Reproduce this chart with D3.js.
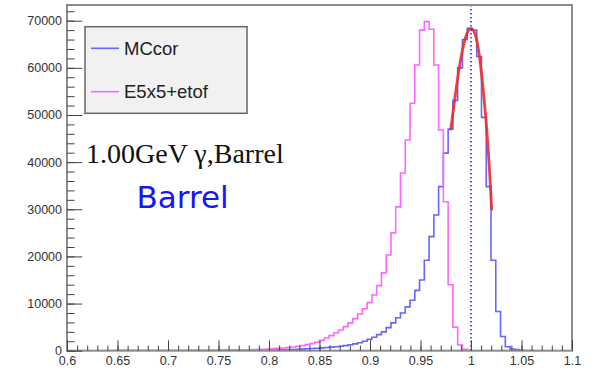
<!DOCTYPE html>
<html>
<head>
<meta charset="utf-8">
<script src="https://cdn.jsdelivr.net/npm/d3@7"></script>
<style>
  html, body { margin: 0; padding: 0; background: #fff; }
  svg { display: block; }
  text { font-family: "Liberation Sans", Arial, sans-serif; }
</style>
</head>
<body>
<svg id="chart" width="595" height="371"></svg>
<script>
// Histogram range and binning (uniform bins from xMin to xMax)
const xMin = 0.6, xMax = 1.1;

// MCcor: corrected energy / true energy, counts per bin
const mccor = [
  0, 0, 0, 2, 2, 3, 3, 4, 5, 5,
  6, 7, 8, 9, 10, 11, 12, 14, 15, 17,
  19, 21, 23, 25, 27, 30, 33, 36, 40, 44,
  48, 52, 57, 62, 68, 74, 80, 88, 96, 105,
  115, 128, 142, 160, 180, 205, 230, 260, 295, 335,
  420, 470, 530, 600, 680, 760, 850, 950, 1080, 1250,
  1450, 1700, 2000, 2400, 2850, 3400, 4000, 4900, 5900, 7000,
  8000, 9300, 10700, 12800, 15000, 19200, 24200, 28800, 34800, 41900,
  47000, 53100, 60000, 66000, 68400, 68000, 62400, 49500, 34800, 19200,
  8300, 3000, 850, 350, 250, 100, 40, 10, 0, 0,
  0, 0, 0, 0, 0, 0
];

// E5x5+etof: uncorrected 5x5 energy plus the etof term, counts per bin
const e5x5etof = [
  0, 0, 0, 0, 2, 3, 4, 5, 6, 8,
  10, 12, 14, 16, 18, 20, 22, 25, 28, 32,
  36, 40, 45, 50, 55, 60, 66, 72, 80, 88,
  96, 105, 115, 126, 138, 150, 165, 180, 200, 225,
  280, 320, 370, 430, 500, 580, 680, 800, 950, 1100,
  1280, 1500, 1800, 2200, 2700, 3200, 3800, 4400, 5100, 5900,
  6800, 7800, 8900, 10200, 11800, 13800, 16500, 20300, 25000, 30500,
  37700, 44700, 52500, 60600, 68000, 69800, 68200, 60600, 46800, 31600,
  14000, 5000, 1200, 300, 60, 0, 0, 0, 0, 0,
  0, 0, 0, 0, 0, 0, 0, 0, 0, 0,
  0, 0, 0, 0, 0, 0
];

// Peak fit on MCcor: sampled points of the fitted function
const fitX = [0.9800, 0.9840, 0.9880, 0.9920, 0.9960, 1.0000, 1.0040, 1.0080, 1.0120, 1.0150, 1.0180, 1.0205];
const fitY = [47000, 53500, 59500, 64200, 67300, 68300, 67200, 63000, 55500, 48500, 39500, 30000];

// Reference line at E/E_true = 1
const refX = 1.0;

// Axis ticks and labels
const xMajor = [0.6, 0.65, 0.7, 0.75, 0.8, 0.85, 0.9, 0.95, 1.0, 1.05, 1.1];
const xLabels = ["0.6", "0.65", "0.7", "0.75", "0.8", "0.85", "0.9", "0.95", "1", "1.05", "1.1"];
const xMinorStep = 0.01;
const yMajor = [0, 10000, 20000, 30000, 40000, 50000, 60000, 70000];
const yLabels = ["0", "10000", "20000", "30000", "40000", "50000", "60000", "70000"];
const yMinorStep = 2000;
const yTop = 73330;

// Legend entries and annotations
const legendNames = ["MCcor", "E5x5+etof"];
const legendColors = ["#6565ff", "#ff66ff"];
const titleText = "1.00GeV \u03b3,Barrel";
const regionText = "Barrel";

const svg = d3.select("#chart");
const L = 67, R = 572, T = 5, B = 350.7;

const x = d3.scaleLinear().domain([xMin, xMax]).range([L, R]);
const y = d3.scaleLinear().domain([0, yTop]).range([B, T]);

// Step outline of a histogram, closed down to zero at both ends
function stepPoints(values) {
  const n = values.length, w = (xMax - xMin) / n;
  const pts = [[xMin, 0]];
  values.forEach((v, i) => {
    pts.push([xMin + i * w, v]);
    pts.push([xMin + (i + 1) * w, v]);
  });
  pts.push([xMax, 0]);
  return pts;
}
const line = d3.line().x(d => x(d[0])).y(d => y(d[1]));

const plot = svg.append("g");
plot.append("clipPath").attr("id", "clip")
  .append("rect").attr("x", L).attr("y", T).attr("width", R - L).attr("height", B - T);

const body = plot.append("g").attr("clip-path", "url(#clip)");

body.append("path")
  .attr("d", line(stepPoints(mccor)))
  .attr("fill", "none").attr("stroke", legendColors[0]).attr("stroke-width", 1.6);

body.append("path")
  .attr("d", line(stepPoints(e5x5etof)))
  .attr("fill", "none").attr("stroke", legendColors[1]).attr("stroke-width", 1.6);

// Fitted curve
const fitLine = d3.line().x(d => x(d[0])).y(d => y(d[1])).curve(d3.curveMonotoneX);
body.append("path")
  .attr("d", fitLine(fitX.map((v, i) => [v, fitY[i]])))
  .attr("fill", "none").attr("stroke", "#ee2a2a").attr("stroke-width", 2.8)
  .attr("stroke-linecap", "round").attr("opacity", 0.9);

// Dotted reference line
body.append("line")
  .attr("x1", x(refX)).attr("x2", x(refX)).attr("y1", T).attr("y2", B)
  .attr("stroke", "#2a2aff").attr("stroke-width", 1.6)
  .attr("stroke-dasharray", "1.6,2.4");

// Frame
plot.append("rect")
  .attr("x", L).attr("y", T).attr("width", R - L).attr("height", B - T)
  .attr("fill", "none").attr("stroke", "#8c8c8c").attr("stroke-width", 2);

// Ticks pointing into the frame
const tickColor = "#444";
const xMinorVals = d3.range(0, 51).map(i => +(xMin + i * xMinorStep).toFixed(3));
const yMinorVals = d3.range(0, Math.floor(yTop / yMinorStep) + 1).map(i => i * yMinorStep);

function styleTicks(g) {
  g.select(".domain").remove();
  g.selectAll(".tick line").attr("stroke", tickColor).attr("stroke-width", 1);
}

plot.append("g").attr("transform", `translate(0,${B})`)
  .call(d3.axisTop(x).tickValues(xMinorVals).tickSize(5.2).tickFormat(""))
  .call(styleTicks);
plot.append("g").attr("transform", `translate(0,${B})`)
  .call(d3.axisTop(x).tickValues(xMajor).tickSize(10.4).tickFormat(""))
  .call(styleTicks);
plot.append("g").attr("transform", `translate(${L},0)`)
  .call(d3.axisRight(y).tickValues(yMinorVals).tickSize(7.6).tickFormat(""))
  .call(styleTicks);
plot.append("g").attr("transform", `translate(${L},0)`)
  .call(d3.axisRight(y).tickValues(yMajor).tickSize(15.2).tickFormat(""))
  .call(styleTicks);

// Tick labels
const labelColor = "#333";
plot.append("g").attr("transform", `translate(0,${B})`)
  .call(d3.axisBottom(x).tickValues(xMajor).tickSize(0).tickPadding(5)
    .tickFormat((d, i) => xLabels[i]))
  .call(g => g.select(".domain").remove())
  .call(g => g.selectAll("text").attr("fill", labelColor)
    .style("font-size", "12.5px").style("font-family", "'Liberation Sans', Arial, sans-serif"));

plot.append("g").attr("transform", `translate(${L},0)`)
  .call(d3.axisLeft(y).tickValues(yMajor).tickSize(0).tickPadding(5)
    .tickFormat((d, i) => yLabels[i]))
  .call(g => g.select(".domain").remove())
  .call(g => g.selectAll("text").attr("fill", labelColor)
    .style("font-size", "12.5px").style("font-family", "'Liberation Sans', Arial, sans-serif"));

// Legend
const leg = svg.append("g");
leg.append("rect")
  .attr("x", 85).attr("y", 26.7).attr("width", 162).attr("height", 86.6)
  .attr("fill", "#f1f1f1").attr("stroke", "#666").attr("stroke-width", 1.5);
const legRows = [48.3, 91.7];
legendNames.forEach((name, i) => {
  leg.append("line")
    .attr("x1", 91).attr("x2", 119).attr("y1", legRows[i]).attr("y2", legRows[i])
    .attr("stroke", legendColors[i]).attr("stroke-width", 1.6);
  leg.append("text")
    .attr("x", 124).attr("y", legRows[i] + 6.7)
    .attr("fill", "#222").style("font-size", "18.5px")
    .text(name);
});

// Annotations
svg.append("text")
  .attr("x", 86).attr("y", 163.3)
  .attr("fill", "#111")
  .style("font-family", "'Liberation Serif', 'Times New Roman', serif")
  .style("font-size", "28px")
  .text(titleText);

svg.append("text")
  .attr("x", 136.5).attr("y", 208.3)
  .attr("fill", "#1414ff")
  .style("font-family", "'DejaVu Sans', Verdana, sans-serif")
  .style("font-size", "31px")
  .text(regionText);
</script>
</body>
</html>
